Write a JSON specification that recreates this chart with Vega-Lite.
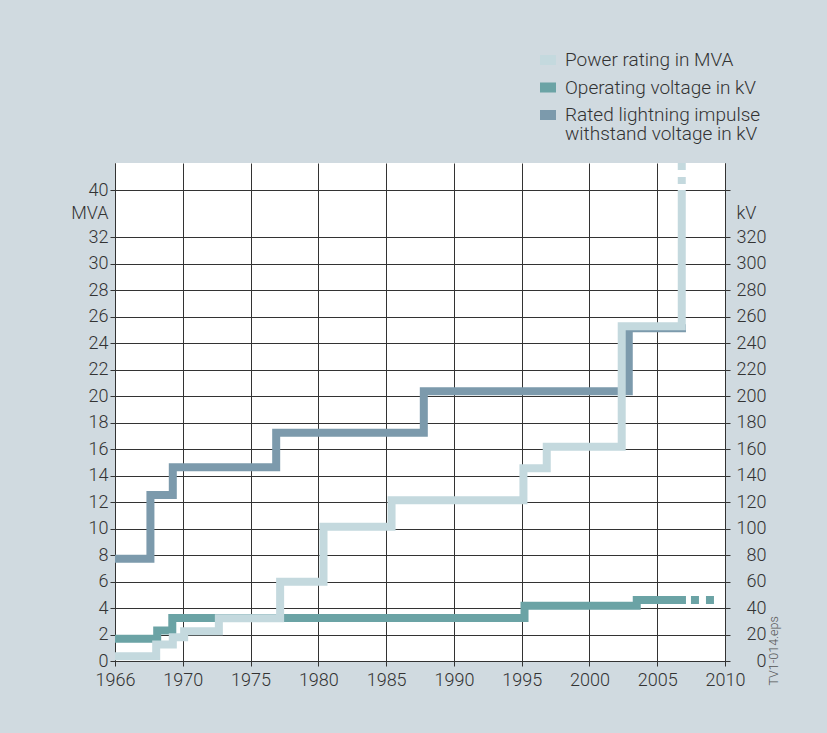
{
  "$schema": "https://vega.github.io/schema/vega-lite/v6.json",
  "width": 610,
  "height": 498,
  "autosize": {"type": "none"},
  "padding": {"left": 115, "top": 163, "right": 102, "bottom": 72},
  "background": "#d0dae0",
  "datasets": {
    "kv": [
      {"series": "Rated lightning impulse withstand voltage in kV", "year": 1966, "value": 77.2, "status": "actual"},
      {"series": "Rated lightning impulse withstand voltage in kV", "year": 1968.09, "value": 125.3, "status": "actual"},
      {"series": "Rated lightning impulse withstand voltage in kV", "year": 1969.41, "value": 146.2, "status": "actual"},
      {"series": "Rated lightning impulse withstand voltage in kV", "year": 1976.89, "value": 172.2, "status": "actual"},
      {"series": "Rated lightning impulse withstand voltage in kV", "year": 1987.78, "value": 203.6, "status": "actual"},
      {"series": "Rated lightning impulse withstand voltage in kV", "year": 2002.9, "value": 251.1, "status": "actual"},
      {"series": "Rated lightning impulse withstand voltage in kV", "year": 2007.12, "value": 251.1, "status": "actual"},
      {"series": "Operating voltage in kV", "year": 1966, "value": 16.8, "status": "actual"},
      {"series": "Operating voltage in kV", "year": 1968.49, "value": 23.0, "status": "actual"},
      {"series": "Operating voltage in kV", "year": 1969.38, "value": 32.5, "status": "actual"},
      {"series": "Operating voltage in kV", "year": 1995.21, "value": 41.7, "status": "actual"},
      {"series": "Operating voltage in kV", "year": 2003.49, "value": 46.0, "status": "actual"},
      {"series": "Operating voltage in kV", "year": 2007.12, "value": 46.0, "status": "actual"},
      {"series": "Operating voltage in kV", "year": 2007.12, "value": 46.0, "status": "continued"},
      {"series": "Operating voltage in kV", "year": 2009.26, "value": 46.0, "status": "continued"}
    ],
    "mva": [
      {"series": "Power rating in MVA", "year": 1966, "value": 0.35, "status": "actual"},
      {"series": "Power rating in MVA", "year": 1968.43, "value": 1.25, "status": "actual"},
      {"series": "Power rating in MVA", "year": 1969.41, "value": 1.8, "status": "actual"},
      {"series": "Power rating in MVA", "year": 1970.1, "value": 2.24, "status": "actual"},
      {"series": "Power rating in MVA", "year": 1972.66, "value": 3.22, "status": "actual"},
      {"series": "Power rating in MVA", "year": 1977.18, "value": 5.98, "status": "actual"},
      {"series": "Power rating in MVA", "year": 1980.38, "value": 10.14, "status": "actual"},
      {"series": "Power rating in MVA", "year": 1985.4, "value": 12.14, "status": "actual"},
      {"series": "Power rating in MVA", "year": 1995.13, "value": 14.54, "status": "actual"},
      {"series": "Power rating in MVA", "year": 1996.85, "value": 16.17, "status": "actual"},
      {"series": "Power rating in MVA", "year": 2002.38, "value": 25.27, "status": "actual"},
      {"series": "Power rating in MVA", "year": 2006.81, "value": 40, "status": "actual"},
      {"series": "Power rating in MVA", "year": 2006.81, "value": 40, "status": "continued"},
      {"series": "Power rating in MVA", "year": 2006.81, "value": 42, "status": "continued"}
    ]
  },
  "encoding": {
    "x": {
      "field": "year",
      "type": "quantitative",
      "scale": {"domain": [1966, 1970, 2010], "range": [0, 67.8, 610], "nice": false, "zero": false},
      "axis": {
        "title": null,
        "values": [1966, 1970, 1975, 1980, 1985, 1990, 1995, 2000, 2005, 2010],
        "format": "d",
        "grid": true,
        "tickSize": 5,
        "labelPadding": 5,
        "labelFlush": false,
        "labelOverlap": false
      }
    },
    "color": {
      "field": "series",
      "type": "nominal",
      "scale": {
        "domain": ["Power rating in MVA", "Operating voltage in kV", "Rated lightning impulse withstand voltage in kV"],
        "range": ["#c4d9de", "#6ba3a5", "#7c9aac"]
      },
      "legend": {
        "title": null,
        "orient": "none",
        "legendX": 420,
        "legendY": -116,
        "padding": 0,
        "symbolType": "M-1,0H1",
        "symbolSize": 256,
        "symbolStrokeWidth": 10,
        "labelFontSize": 19,
        "labelLimit": 400,
        "labelOffset": 4,
        "rowPadding": -12.5,
        "gridAlign": "none",
        "labelExpr": "datum.value == 'Rated lightning impulse withstand voltage in kV' ? ['Rated lightning impulse', 'withstand voltage in kV'] : datum.label",
        "encode": {
          "labels": {
            "update": {
              "lineHeight": {"value": 19}
            }
          }
        }
      }
    }
  },
  "layer": [
    {
      "data": {"name": "kv"},
      "encoding": {
        "y": {
          "field": "value",
          "type": "quantitative",
          "scale": {"domain": [0, 320, 400, 420], "range": [498, 74, 27, 0], "nice": false, "zero": false},
          "axis": {
            "orient": "right",
            "title": "TV1-014.eps",
            "titleAngle": 270,
            "titleX": 48,
            "titleY": 522,
            "titleAlign": "left",
            "titleBaseline": "middle",
            "titleFontSize": 12.5,
            "titleFontWeight": 300,
            "titleColor": "#555",
            "values": [0, 20, 40, 60, 80, 100, 120, 140, 160, 180, 200, 220, 240, 260, 280, 300, 320, 360, 400],
            "labelExpr": "datum.value == 360 ? 'kV' : (datum.value == 400 ? '' : datum.label)",
            "grid": false,
            "tickSize": 5,
            "tickOpacity": {"condition": {"test": "datum.value == 360", "value": 0}, "value": 1},
            "labelAlign": {"condition": {"test": "datum.value == 360", "value": "left"}, "value": "right"},
            "labelPadding": {"condition": {"test": "datum.value == 360", "value": 6}, "value": 36},
            "labelOverlap": false,
            "labelFlush": false
          }
        }
      },
      "layer": [
        {
          "transform": [{"filter": "datum.status == 'actual'"}],
          "mark": {"type": "line", "interpolate": "step-after", "strokeWidth": 8, "strokeJoin": "miter", "strokeCap": "butt"}
        },
        {
          "transform": [{"filter": "datum.status == 'continued'"}],
          "mark": {"type": "line", "strokeWidth": 8, "strokeCap": "butt", "strokeDash": [8, 7], "strokeDashOffset": 10},
          "encoding": {"order": [{"field": "year", "type": "quantitative"}, {"field": "value", "type": "quantitative"}]}
        }
      ]
    },
    {
      "data": {"name": "mva"},
      "encoding": {
        "y": {
          "field": "value",
          "type": "quantitative",
          "scale": {"domain": [0, 32, 40, 42], "range": [498, 74, 27, 0], "nice": false, "zero": false},
          "axis": {
            "orient": "left",
            "title": null,
            "values": [0, 2, 4, 6, 8, 10, 12, 14, 16, 18, 20, 22, 24, 26, 28, 30, 32, 36, 40],
            "labelExpr": "datum.value == 36 ? 'MVA' : datum.label",
            "grid": true,
            "gridOpacity": {"condition": {"test": "datum.value == 36", "value": 0}, "value": 1},
            "tickOpacity": {"condition": {"test": "datum.value == 36", "value": 0}, "value": 1},
            "tickSize": 5,
            "labelPadding": 2,
            "labelOverlap": false,
            "labelFlush": false
          }
        }
      },
      "layer": [
        {
          "transform": [{"filter": "datum.status == 'actual'"}],
          "mark": {"type": "line", "interpolate": "step-after", "strokeWidth": 8, "strokeJoin": "miter", "strokeCap": "butt"}
        },
        {
          "transform": [{"filter": "datum.status == 'continued'"}],
          "mark": {"type": "line", "strokeWidth": 8, "strokeCap": "butt", "strokeDash": [7, 7], "strokeDashOffset": 8},
          "encoding": {"order": [{"field": "year", "type": "quantitative"}, {"field": "value", "type": "quantitative"}]}
        }
      ]
    }
  ],
  "resolve": {"scale": {"y": "independent"}, "axis": {"y": "independent"}},
  "config": {
    "font": "Roboto",
    "view": {"fill": "white", "stroke": null},
    "axis": {
      "labelFont": "Roboto",
      "labelFontWeight": 300,
      "labelFontSize": 18,
      "labelColor": "#333",
      "domainColor": "#333",
      "tickColor": "#333",
      "gridColor": "#333",
      "gridOpacity": 1,
      "domainWidth": 1,
      "tickWidth": 1,
      "gridWidth": 1
    },
    "legend": {
      "labelFont": "Roboto",
      "labelFontWeight": 300,
      "labelColor": "#333"
    }
  }
}
